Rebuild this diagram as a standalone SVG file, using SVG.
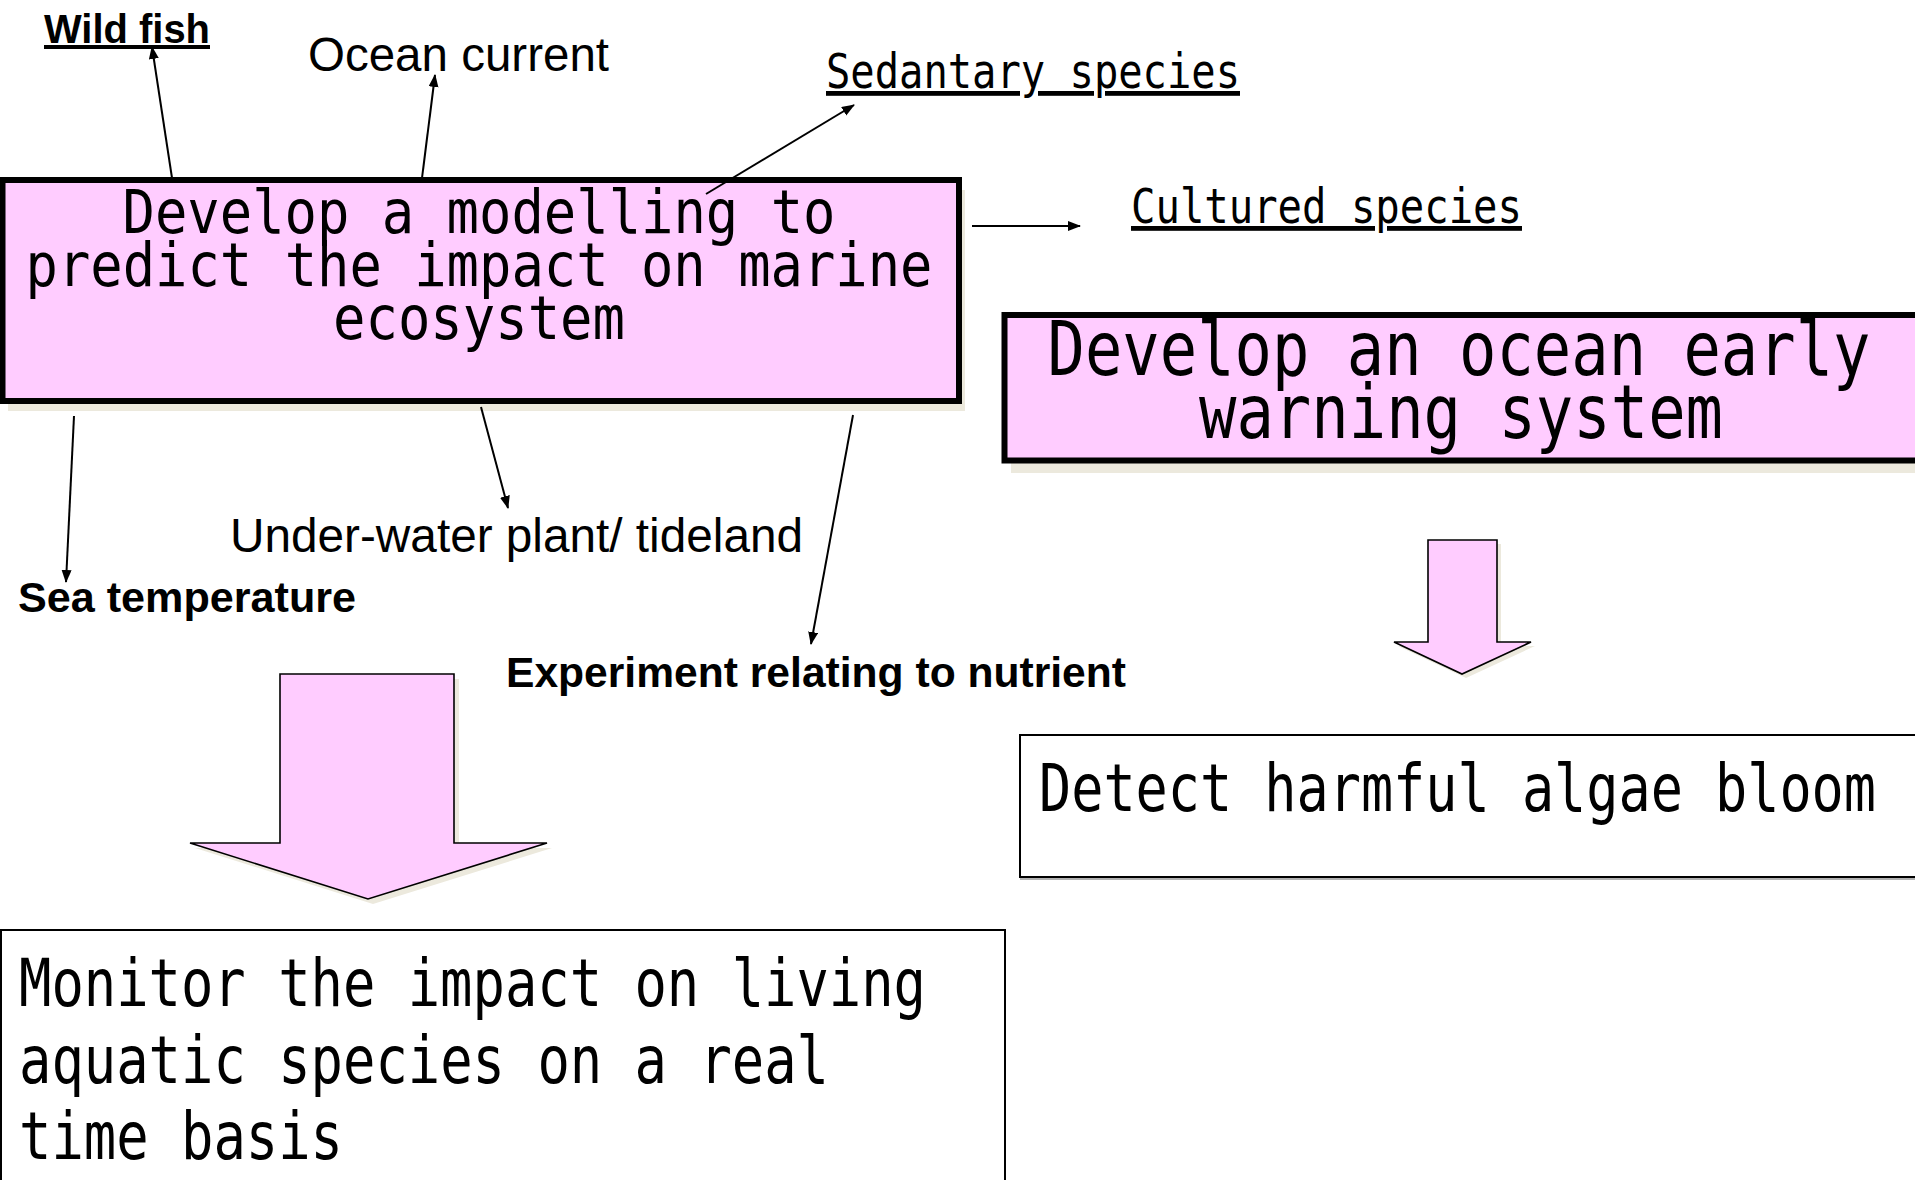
<svg xmlns="http://www.w3.org/2000/svg" width="1915" height="1180" viewBox="0 0 1915 1180">
<style>
.mono{font-family:"DejaVu Sans Mono","Liberation Mono",monospace;fill:#000}
.sans{font-family:"Liberation Sans",Arial,sans-serif;fill:#000}
.bold{font-family:"Liberation Sans",Arial,sans-serif;font-weight:bold;fill:#000}
.pinkbox{fill:#ffccff;stroke:#000;stroke-width:6}
.shadow{fill:#ece9dd;stroke:none}
.whitebox{fill:#fff;stroke:#000;stroke-width:2}
.block{fill:#ffccff;stroke:#000;stroke-width:1.6;stroke-linejoin:miter}
.conn{stroke:#000;stroke-width:2;fill:none}
</style>
<defs>
<marker id="ah" markerWidth="14" markerHeight="12" refX="12" refY="5" orient="auto" markerUnits="userSpaceOnUse">
<path d="M0,0 L13,5 L0,10 z" fill="#000"/>
</marker>
</defs>
<rect width="1915" height="1180" fill="#fff"/>

<g id="model-box">
<rect class="shadow" x="8" y="190" width="957" height="221"/>
<rect class="pinkbox" x="2.5" y="180" width="956.5" height="221"/>
<text class="mono" font-size="61" x="479" y="233" text-anchor="middle" textLength="713" lengthAdjust="spacingAndGlyphs">Develop a modelling to</text>
<text class="mono" font-size="61" x="479" y="286" text-anchor="middle" textLength="907" lengthAdjust="spacingAndGlyphs">predict the impact on marine</text>
<text class="mono" font-size="61" x="479" y="339" text-anchor="middle" textLength="292" lengthAdjust="spacingAndGlyphs">ecosystem</text>
</g>

<g id="warning-box">
<rect class="shadow" x="1011" y="324" width="930" height="149"/>
<rect class="pinkbox" x="1004.5" y="315" width="930" height="145.5"/>
<text class="mono" font-size="75" x="1459" y="375" text-anchor="middle" textLength="823" lengthAdjust="spacingAndGlyphs">Develop an ocean early</text>
<text class="mono" font-size="75" x="1461" y="438" text-anchor="middle" textLength="524" lengthAdjust="spacingAndGlyphs">warning system</text>
</g>

<g id="wild-fish">
<text class="bold" font-size="40" x="44" y="43" textLength="166" lengthAdjust="spacingAndGlyphs" text-decoration="underline">Wild fish</text>
</g>
<g id="ocean-current">
<text class="sans" font-size="48" x="308" y="71" textLength="301" lengthAdjust="spacingAndGlyphs">Ocean current</text>
</g>
<g id="sedantary-species">
<text class="mono" font-size="48" x="826" y="88" textLength="414" lengthAdjust="spacingAndGlyphs" text-decoration="underline">Sedantary species</text>
</g>
<g id="cultured-species">
<text class="mono" font-size="48" x="1131" y="223" textLength="391" lengthAdjust="spacingAndGlyphs" text-decoration="underline">Cultured species</text>
</g>
<g id="under-water">
<text class="sans" font-size="48" x="230" y="552" textLength="573" lengthAdjust="spacingAndGlyphs">Under-water plant/ tideland</text>
</g>
<g id="sea-temperature">
<text class="bold" font-size="42" x="18" y="612" textLength="338" lengthAdjust="spacingAndGlyphs">Sea temperature</text>
</g>
<g id="experiment">
<text class="bold" font-size="42" x="506" y="687" textLength="620" lengthAdjust="spacingAndGlyphs">Experiment relating to nutrient</text>
</g>

<g id="block-arrow-1">
<path class="shadow" d="M285,679 H459 V848 H552 L373,904 L195,848 H285 Z"/>
<path class="block" d="M280,674 H454 V843 H547 L368,899 L190,843 H280 Z"/>
</g>
<g id="block-arrow-2">
<path class="shadow" d="M1432,544 H1501 V646 H1535 L1466,678 L1398,646 H1432 Z"/>
<path class="block" d="M1428,540 H1497 V642 H1531 L1462,674 L1394,642 H1428 Z"/>
</g>

<g id="monitor-box">
<rect class="whitebox" x="1" y="930" width="1004" height="300"/>
<text class="mono" font-size="66" x="19" y="1006" textLength="907" lengthAdjust="spacingAndGlyphs">Monitor the impact on living</text>
<text class="mono" font-size="66" x="19" y="1083" textLength="810" lengthAdjust="spacingAndGlyphs">aquatic species on a real</text>
<text class="mono" font-size="66" x="19" y="1159" textLength="324" lengthAdjust="spacingAndGlyphs">time basis</text>
</g>

<g id="detect-box">
<rect class="whitebox" x="1020" y="735" width="950" height="142"/>
<line x1="1020" y1="879" x2="1915" y2="879" stroke="#999" stroke-width="1.5"/>
<text class="mono" font-size="66" x="1039" y="811" textLength="837" lengthAdjust="spacingAndGlyphs">Detect harmful algae bloom</text>
</g>

<g id="connectors">
<line class="conn" x1="172" y1="178" x2="152" y2="47" marker-end="url(#ah)"/>
<line class="conn" x1="422" y1="178" x2="435" y2="75" marker-end="url(#ah)"/>
<line class="conn" x1="706" y1="194" x2="854" y2="105" marker-end="url(#ah)"/>
<line class="conn" x1="972" y1="226" x2="1080" y2="226" marker-end="url(#ah)"/>
<line class="conn" x1="74" y1="416" x2="66" y2="582" marker-end="url(#ah)"/>
<line class="conn" x1="481" y1="407" x2="508" y2="508" marker-end="url(#ah)"/>
<line class="conn" x1="853" y1="415" x2="811" y2="644" marker-end="url(#ah)"/>
</g>
</svg>
